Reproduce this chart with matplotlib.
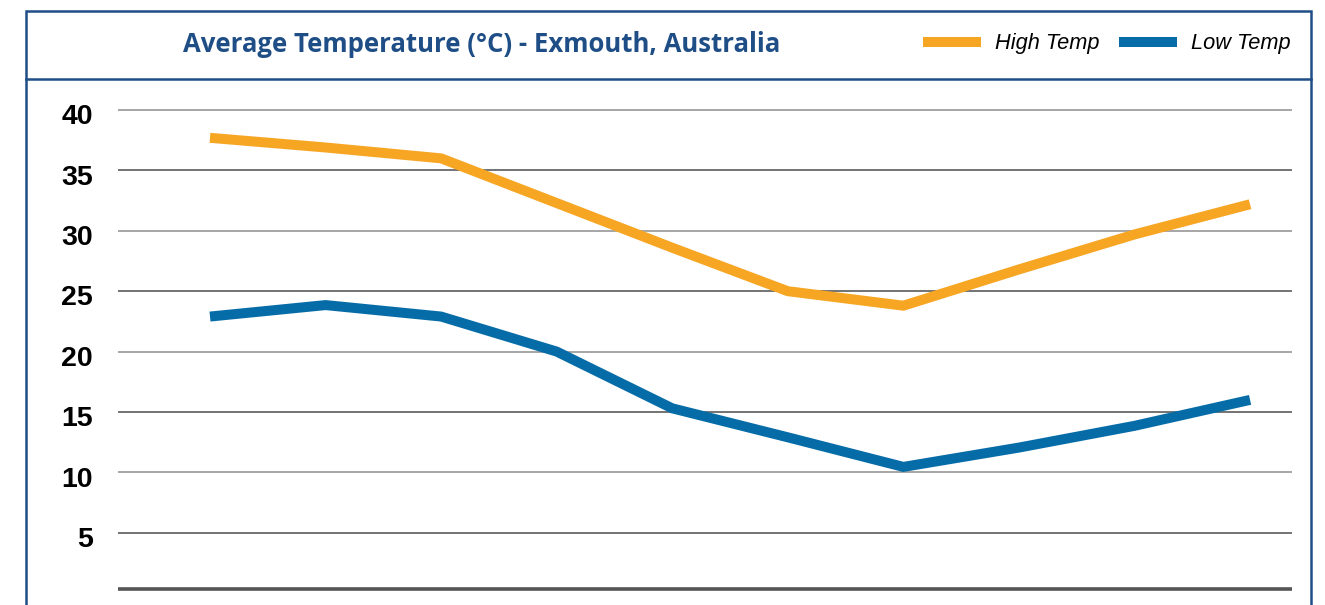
import matplotlib
matplotlib.use("Agg")
import matplotlib.pyplot as plt
from matplotlib.patches import Rectangle
from matplotlib.lines import Line2D
from matplotlib.transforms import ScaledTranslation

# data (one value per month shown)
months = ["Jan", "Feb", "Mar", "Apr", "May", "Jun", "Jul", "Aug", "Sep", "Oct"]
high_temp = [37.7, 36.9, 36.0, 32.3, 28.6, 25.0, 23.8, 26.8, 29.7, 32.2]
low_temp = [22.9, 23.85, 22.9, 20.0, 15.3, 12.9, 10.45, 12.05, 13.85, 16.0]
y_ticks = [5, 10, 15, 20, 25, 30, 35, 40]

title = "Average Temperature (°C) - Exmouth, Australia"
orange = "#F7A624"
blue = "#066CA8"
navy = "#1F4E86"

W, H = 1325, 605
fig = plt.figure(figsize=(W / 100, H / 100), dpi=100)

# axes placed so that 0 sits at the bottom rule and 40 at the top gridline
ax = fig.add_axes([118 / W, (H - 593.1) / H, 1174 / W, 507.2 / H])
x = list(range(len(months)))
ax.plot(x, high_temp, color=orange, lw=7.2, solid_capstyle="butt", solid_joinstyle="miter", label="High Temp", zorder=3)
ax.plot(x, low_temp, color=blue, lw=7.2, solid_capstyle="butt", solid_joinstyle="miter", label="Low Temp", zorder=3)

ax.set_xlim(-0.796, 9.363)
ax.set_ylim(0, 42)

# gridlines alternate light / dark
for v in y_ticks:
    ax.axhline(v, color="#A6A6A6" if v % 10 == 0 else "#4D4D4D", lw=1.4 if v % 10 == 0 else 1.1, zorder=1)
ax.axhline(0.3, color="#555555", lw=2.6, zorder=2)

ax.set_yticks(y_ticks)
ax.set_yticklabels([str(v) for v in y_ticks], fontfamily="Liberation Sans", fontweight="bold", fontsize=20.5)
ax.tick_params(axis="y", length=0, pad=18)
shift = ScaledTranslation(0, -3 / 72, fig.dpi_scale_trans)
for lbl in ax.get_yticklabels():
    lbl.set_transform(lbl.get_transform() + shift)
ax.set_xticks([])
for s in ax.spines.values():
    s.set_visible(False)

# outer frame and title band
fig.add_artist(Rectangle((26 / W, -0.05), (1311 - 26) / W, 1.05 - 11 / H,
                         transform=fig.transFigure, fill=False, ec=navy, lw=1.8))
fig.add_artist(Line2D([26 / W, 1311 / W], [1 - 79 / H, 1 - 79 / H],
                      transform=fig.transFigure, color=navy, lw=1.8))

fig.text(482 / W, 1 - 45 / H, title, ha="center", va="center", color=navy,
         fontsize=18.5, fontweight="bold", fontfamily="Open Sans")

fig.legend(loc="center right", bbox_to_anchor=(1291 / W, 1 - 44 / H), ncol=2, frameon=False,
           prop={"family": "Liberation Sans", "style": "italic", "size": 15.7},
           handlelength=2.65, handletextpad=0.65, columnspacing=0.9, borderpad=0, borderaxespad=0)

fig.savefig("out.png", dpi=100)
